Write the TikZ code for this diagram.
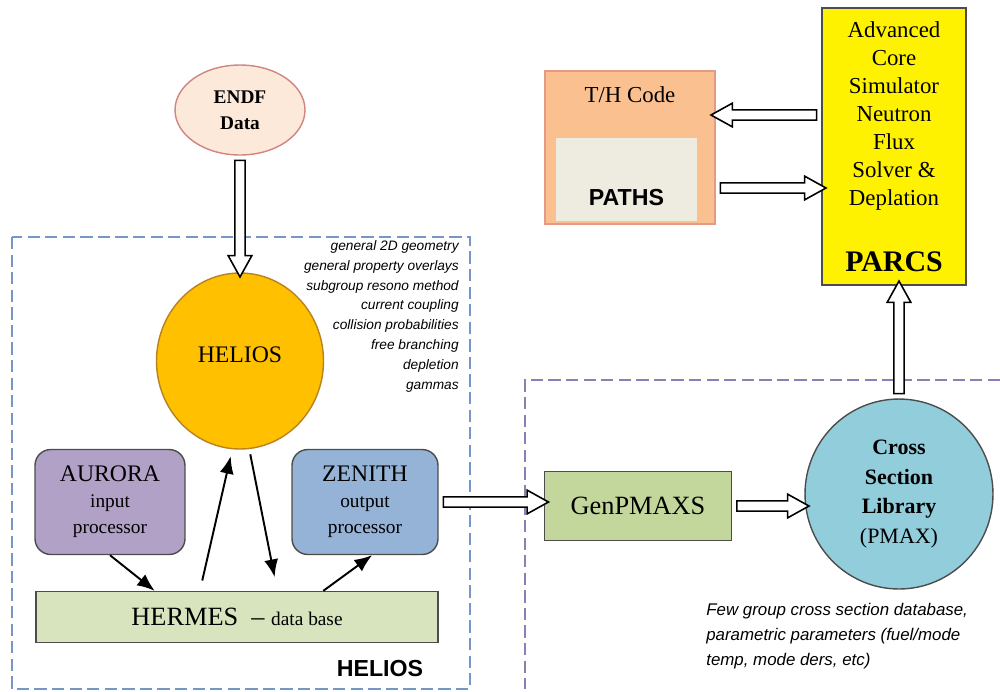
\documentclass[tikz,border=0pt]{standalone}
\usepackage{fontspec}
\setmainfont{Liberation Serif}
\setsansfont{Liberation Sans}
\usetikzlibrary{shapes.geometric,shapes.arrows,calc,arrows.meta}
\tikzset{>=latex}
\definecolor{endffill}{HTML}{FDE9D9}
\definecolor{endfdraw}{HTML}{D08580}
\definecolor{heliosfill}{HTML}{FFC000}
\definecolor{heliosdraw}{HTML}{B9821E}
\definecolor{aurorafill}{HTML}{B2A1C7}
\definecolor{zenithfill}{HTML}{95B3D7}
\definecolor{hermesfill}{HTML}{D7E4BD}
\definecolor{genfill}{HTML}{C3D69B}
\definecolor{xsecfill}{HTML}{92CDDC}
\definecolor{thfill}{HTML}{FAC090}
\definecolor{thdraw}{HTML}{E39A86}
\definecolor{pathsfill}{HTML}{EEECE1}
\definecolor{dashblue}{HTML}{7596C6}
\definecolor{dashpurple}{HTML}{8F7DB5}
\tikzset{
  box/.style={draw=black!70, line width=0.8pt, align=center, inner sep=0pt},
  rbox/.style={box, rounded corners=9pt},
  blockarrow/.style={single arrow, draw=black, fill=white, line width=0.9pt,
    inner xsep=0pt, inner ysep=2.5pt, single arrow head extend=3.8pt,
    single arrow tip angle=58},
  thinarrow/.style={-{Latex[length=10pt, width=8pt]}, line width=1.1pt},
  helbox/.style={draw=dashblue, line width=1.3pt, dash pattern=on 7pt off 3pt},
  pmaxbox/.style={draw=dashpurple, line width=1.3pt, dash pattern=on 7pt off 3pt},
  notes/.style={font=\sffamily\itshape\fontsize{7.8}{11.3}\selectfont, inner sep=0pt},
}
\newcommand{\hollowarrow}[2]{%
  \path let \p1=($#2-#1$), \n1={veclen(\x1,\y1)} in #1 -- #2
    node[blockarrow, midway, sloped, allow upside down, minimum height=\n1] {};}

\begin{document}
\begin{tikzpicture}[x=0.02cm, y=-0.02cm]
\useasboundingbox (0,0) rectangle (1000,691);
\draw[helbox] (12,237) rectangle (470,689);
\draw[pmaxbox] (1000,380) -- (525,380) -- (525,689);

\node[box, ellipse, fill=endffill, draw=endfdraw, minimum width=2.6cm, minimum height=1.8cm,
  font=\bfseries\fontsize{11}{15}\selectfont] (endf) at (240,110) {ENDF\\Data};
\node[box, ellipse, fill=heliosfill, draw=heliosdraw, minimum width=3.34cm, minimum height=3.52cm,
  font=\fontsize{13.5}{16}\selectfont] (helios) at (240,361) {\raisebox{7pt}{HELIOS}};
\node[notes, anchor=north east, align=right] (features) at (459,240)
  {general 2D geometry\\general property overlays\\subgroup resono method\\current coupling\\
   collision probabilities\\free branching\\depletion\\gammas};
\node[rbox, fill=aurorafill, minimum width=3cm, minimum height=2.1cm,
  font=\fontsize{11}{14.7}\selectfont] (aurora) at (110,502)
  {{\fontsize{13.5}{14.7}\selectfont AURORA}\\input\\processor};
\node[rbox, fill=zenithfill, minimum width=2.92cm, minimum height=2.1cm,
  font=\fontsize{11}{14.7}\selectfont] (zenith) at (365,502)
  {{\fontsize{13.5}{14.7}\selectfont ZENITH}\\output\\processor};
\node[box, fill=hermesfill, minimum width=8.04cm, minimum height=1.02cm] (hermes) at (237,617)
  {{\fontsize{15}{18}\selectfont HERMES\ \ –\ }{\fontsize{11}{13}\selectfont data base}};
\node[font=\sffamily\bfseries\fontsize{13.2}{16}\selectfont] (heliostitle) at (380,668) {HELIOS};

\node[box, fill=genfill, minimum width=3.74cm, minimum height=1.38cm,
  font=\fontsize{15}{18}\selectfont] (genpmaxs) at (638,506) {GenPMAXS};
\node[box, ellipse, fill=xsecfill, minimum width=3.76cm, minimum height=3.8cm,
  font=\fontsize{12.5}{17}\selectfont] (xsec) at (899,494)
  {\textbf{Cross}\\\textbf{Section}\\\textbf{Library}\\(PMAX)};
\node[notes, anchor=north west, align=left, font=\sffamily\itshape\fontsize{9.6}{14.2}\selectfont]
  (pmaxnote) at (706,603)
  {Few group cross section database,\\parametric parameters (fuel/mode\\temp, mode ders, etc)};

\node[box, fill=yellow, minimum width=2.88cm, minimum height=5.54cm] (parcs) at (894,146.5) {};
\node[align=center, font=\fontsize{13}{15.9}\selectfont] (parcsdesc) at (894,116)
  {Advanced\\Core\\Simulator\\Neutron\\Flux\\Solver \&\\Deplation};
\node[font=\bfseries\fontsize{17}{20}\selectfont] (parcslabel) at (894,262) {PARCS};

\node[box, fill=thfill, draw=thdraw, minimum width=3.4cm, minimum height=3.06cm] (th) at (630,147.5) {};
\node[font=\fontsize{13}{16}\selectfont] (thlabel) at (630,95) {T/H Code};
\node[fill=pathsfill, minimum width=2.82cm, minimum height=1.66cm] (paths) at (626.5,179.5) {};
\node[font=\sffamily\bfseries\fontsize{13.2}{16}\selectfont] (pathslabel) at (626.5,198) {PATHS};

\hollowarrow{(endf.south)}{(helios.north)}
\hollowarrow{(zenith.east)}{(genpmaxs.west |- zenith.east)}
\hollowarrow{(genpmaxs.east)}{(xsec.west |- genpmaxs.east)}
\hollowarrow{(xsec.north)}{(xsec.north |- parcs.south)}
\coordinate (toth) at ([yshift=0.63cm]parcs.west);
\coordinate (fromth) at ([yshift=-0.83cm]parcs.west);
\hollowarrow{(toth)}{(toth -| th.east)}
\hollowarrow{(fromth -| th.east)}{(fromth)}

\draw[thinarrow] (aurora.south) -- ($(hermes.north west)!0.296!(hermes.north east)$);
\draw[thinarrow, shorten <=6pt, shorten >=4pt] ($(hermes.north west)!0.408!(hermes.north east)$) -- (helios.265);
\draw[thinarrow, shorten <=3pt, shorten >=8pt] (helios.276) -- ($(hermes.north west)!0.6!(hermes.north east)$);
\draw[thinarrow] ($(hermes.north west)!0.714!(hermes.north east)$) -- ($(zenith.south west)!0.548!(zenith.south east)$);
\end{tikzpicture}
\end{document}
